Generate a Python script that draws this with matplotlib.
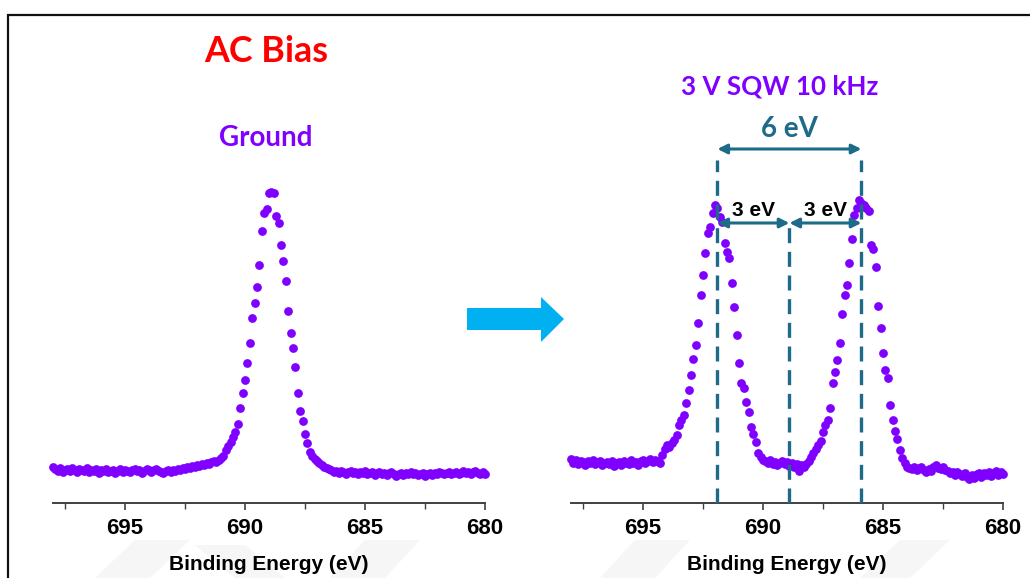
import numpy as np
import matplotlib
matplotlib.use("Agg")
from matplotlib import pyplot as plt
from matplotlib.patches import Polygon, Rectangle

# F 1s spectra, 0.1 eV step from 698.0 down to 680.0 eV
e_start = 698.0
e_step = 0.1

ground = [
    3.6, 3.4, 3.2, 3.5, 3.1, 3.3, 3.4, 3.2, 3.5, 3.3,
    3.1, 3.4, 3.3, 3.2, 3.5, 3.1, 3.3, 3.2, 3.4, 3.0,
    3.3, 3.2, 3.4, 3.1, 3.2, 3.3, 3.0, 3.2, 3.4, 3.1,
    3.3, 3.2, 3.1, 3.3, 3.4, 3.2, 3.3, 3.0, 3.2, 3.4,
    3.3, 3.1, 3.3, 3.4, 3.2, 3.1, 3.0, 3.2, 3.3, 3.1,
    3.3, 3.2, 3.4, 3.3, 3.5, 3.4,
    3.6, 3.5, 3.7, 3.6, 3.8, 3.7, 3.9, 3.8, 4.0, 3.9, 4.1, 4.2, 4.1,
    4.3, 4.5, 4.7, 5.3, 5.7, 6.1, 6.6, 7.1, 7.9, 9.5, 11.0, 12.3,
    14.0, 16.0, 18.5, 20.0, 21.6, 23.8, 27.2, 29.0, 29.4, 31.0,
    31.1, 31.0, 28.7, 28.0, 25.8, 24.2, 22.2, 19.2, 17.0, 15.5,
    13.6, 11.0, 9.2, 8.2, 6.9, 6.0, 5.1, 4.7, 4.4, 4.2,
    4.0, 3.8, 3.6, 3.5, 3.4,
    3.3, 3.1, 3.2, 3.0, 3.2, 3.1, 2.9, 3.1, 3.2, 3.0,
    3.1, 2.9, 3.1, 3.0, 3.2, 2.9, 3.0, 3.1, 2.8, 3.0,
    3.1, 2.9, 3.0, 2.8, 3.0, 3.1, 2.9, 2.7, 2.9, 3.0,
    2.8, 3.0, 2.9, 3.1, 2.9, 3.0, 2.8, 2.9, 3.0, 2.7,
    2.9, 3.0, 2.8, 3.0, 2.9, 3.1, 3.0, 2.9, 3.0, 3.1,
    2.9, 3.0, 3.1, 2.9, 3.0, 3.2, 3.0, 3.1, 2.9, 3.1,
    3.2, 3.0, 2.9, 3.1, 2.9,
]

sqw = [
    4.4, 4.0, 4.3, 3.9, 4.2, 4.1, 3.8, 4.2, 4.0, 4.3,
    3.9, 4.1, 4.2, 3.8, 4.0, 4.1, 3.9, 4.2, 3.7, 4.0,
    4.1, 3.8, 4.2, 4.0, 3.9, 4.3, 4.0, 4.1, 3.8, 4.2,
    4.3, 4.0, 4.2, 4.4, 4.1, 4.3, 4.2, 4.0,
    4.8, 5.4, 5.8, 5.6, 6.0, 6.3, 6.8, 7.8, 8.3, 8.8,
    10.0, 11.3, 12.8, 14.4, 15.8, 18.0, 20.8, 22.8, 25.0, 27.0,
    27.6, 29.0, 29.8, 29.5, 28.6, 28.1, 26.0, 25.1, 24.5, 22.0,
    19.6, 16.8, 14.0, 12.0, 11.5, 10.1, 9.1, 7.6, 6.9, 6.1,
    5.0, 4.6, 4.3,
    4.2, 4.0, 4.3, 3.9, 4.1, 3.8, 4.0, 4.2, 3.9, 4.1,
    3.7, 4.0, 3.6, 3.9, 3.2, 3.8, 3.6, 3.9, 4.2,
    4.6, 5.0, 5.4, 5.8, 6.2, 7.1, 7.8, 8.3, 9.5, 12.0,
    13.1, 14.3, 16.0, 18.9, 20.8, 21.8, 24.0, 26.4, 28.8, 29.5,
    30.3, 30.0, 29.8, 29.5, 29.2, 25.8, 25.4, 23.6, 19.7, 17.5,
    15.0, 13.3, 12.5, 9.8, 8.3, 7.2, 6.4, 5.3, 4.5, 4.0,
    3.6,
    3.5, 3.4, 3.6, 3.3, 3.5, 3.6, 3.3, 3.1, 3.4, 3.2,
    3.6, 3.8, 3.5, 3.4, 3.6, 3.3, 3.2, 3.0, 3.1, 2.8,
    3.1, 2.9, 2.7, 3.0, 2.6, 2.4, 2.8, 2.5, 2.9, 3.0,
    2.6, 3.0, 2.8, 3.1, 2.7, 3.0, 3.2, 2.8, 3.1, 2.9,
]

energy_g = e_start - e_step * np.arange(len(ground))
energy_s = e_start - e_step * np.arange(len(sqw))

# shifted peak positions under the square wave
peaks = [691.9, 685.9]
center = 688.9

x_ticks = [695, 690, 685, 680]
x_minor = [697.5, 692.5, 687.5, 682.5]

purple = "#7f00ff"
teal = "#1d6a89"
W, H = 1030, 578


def fx(px):
    return px / W


def fy(py):
    return 1 - py / H


fig = plt.figure(figsize=(10.3, 5.78), dpi=100)

# outer frame of the slide
fig.patches.append(Rectangle((fx(8), fy(600)), fx(1100), fy(15) - fy(600),
                             transform=fig.transFigure, fill=False,
                             edgecolor="#111111", lw=1.6))

# faint watermark bands at the bottom
for pts in [
    [(95, 578), (150, 578), (190, 540), (135, 540)],
    [(330, 578), (385, 578), (420, 540), (365, 540)],
    [(600, 578), (655, 578), (690, 540), (635, 540)],
    [(860, 578), (910, 578), (950, 540), (900, 540)],
    [(235, 578), (285, 578), (245, 545), (195, 545)],
]:
    fig.patches.append(Polygon([(fx(a), fy(b)) for a, b in pts], closed=True,
                               transform=fig.transFigure, facecolor="#f6f6f6",
                               edgecolor="none", zorder=-5))

ax1 = fig.add_axes([fx(53), fy(503), fx(432), fy(100) - fy(503)])
ax2 = fig.add_axes([fx(571), fy(503), fx(432), fy(100) - fy(503)])

for ax, en, counts in [(ax1, energy_g, ground), (ax2, energy_s, sqw)]:
    ax.plot(en, counts, "o", color=purple, ms=6.3, mec="none", clip_on=False)
    ax.set_xlim(698, 680)
    ax.set_ylim(0, 40.3)
    ax.patch.set_alpha(0)
    for s in ["top", "right", "left"]:
        ax.spines[s].set_visible(False)
    ax.spines["bottom"].set_color("#404040")
    ax.spines["bottom"].set_linewidth(1.4)
    ax.set_yticks([])
    ax.set_xticks(x_ticks)
    ax.set_xticks(x_minor, minor=True)
    ax.tick_params(axis="x", which="major", length=5, width=1.2,
                   color="#404040", pad=6)
    ax.tick_params(axis="x", which="minor", length=4, width=1.0,
                   color="#404040")
    for lab in ax.get_xticklabels():
        lab.set_fontfamily("Liberation Sans")
        lab.set_fontweight("bold")
        lab.set_fontsize(16)
    ax.set_xlabel("Binding Energy (eV)", fontfamily="Liberation Sans",
                  fontweight="bold", fontsize=15, labelpad=11)

# dashed guides at the two shifted peaks and the original position
for p in peaks:
    ax2.plot([p, p], [0, 34.3], color=teal, lw=2.4, ls=(0, (4.5, 2.6)),
             zorder=3)
ax2.plot([center, center], [0, 28.0], color=teal, lw=2.4, ls=(0, (4.5, 2.6)),
         zorder=3)

arrow = dict(arrowstyle="<|-|>", color=teal, lw=2.2, mutation_scale=14,
             shrinkA=0, shrinkB=0)
ax2.annotate("", xy=(peaks[1], 35.4), xytext=(peaks[0], 35.4),
             arrowprops=arrow, annotation_clip=False)
ax2.annotate("", xy=(center, 28.0), xytext=(peaks[0], 28.0), arrowprops=arrow)
ax2.annotate("", xy=(peaks[1], 28.0), xytext=(center, 28.0), arrowprops=arrow)

ax2.text((peaks[0] + peaks[1]) / 2, 37.4, "%g eV" % (peaks[0] - peaks[1]),
         ha="center", va="center", color=teal, fontsize=20,
         fontfamily="Lato", fontweight="bold")
ax2.text((peaks[0] + center) / 2, 29.3, "%g eV" % (peaks[0] - center),
         ha="center", va="center", color="black", fontsize=15,
         fontfamily="Liberation Sans", fontweight="bold")
ax2.text((center + peaks[1]) / 2, 29.3, "%g eV" % (center - peaks[1]),
         ha="center", va="center", color="black", fontsize=15,
         fontfamily="Liberation Sans", fontweight="bold")

# titles
fig.text(fx(266), fy(52), "AC Bias", color="#ff0000", fontsize=25.8,
         fontfamily="Lato", fontweight="bold", ha="center", va="center")
fig.text(fx(266), fy(138), "Ground", color=purple, fontsize=20,
         fontfamily="Lato", fontweight="bold", ha="center", va="center")
fig.text(fx(780), fy(87), "3 V SQW 10 kHz", color=purple, fontsize=18.7,
         fontfamily="Lato", fontweight="bold", ha="center", va="center")

# blue arrow between the panels
blue = [(467, 308), (541, 308), (541, 297), (564, 319), (541, 342),
        (541, 330), (467, 330)]
fig.patches.append(Polygon([(fx(a), fy(b)) for a, b in blue], closed=True,
                           transform=fig.transFigure, facecolor="#00b0f0",
                           edgecolor="none"))

fig.savefig("out.png", dpi=100)
